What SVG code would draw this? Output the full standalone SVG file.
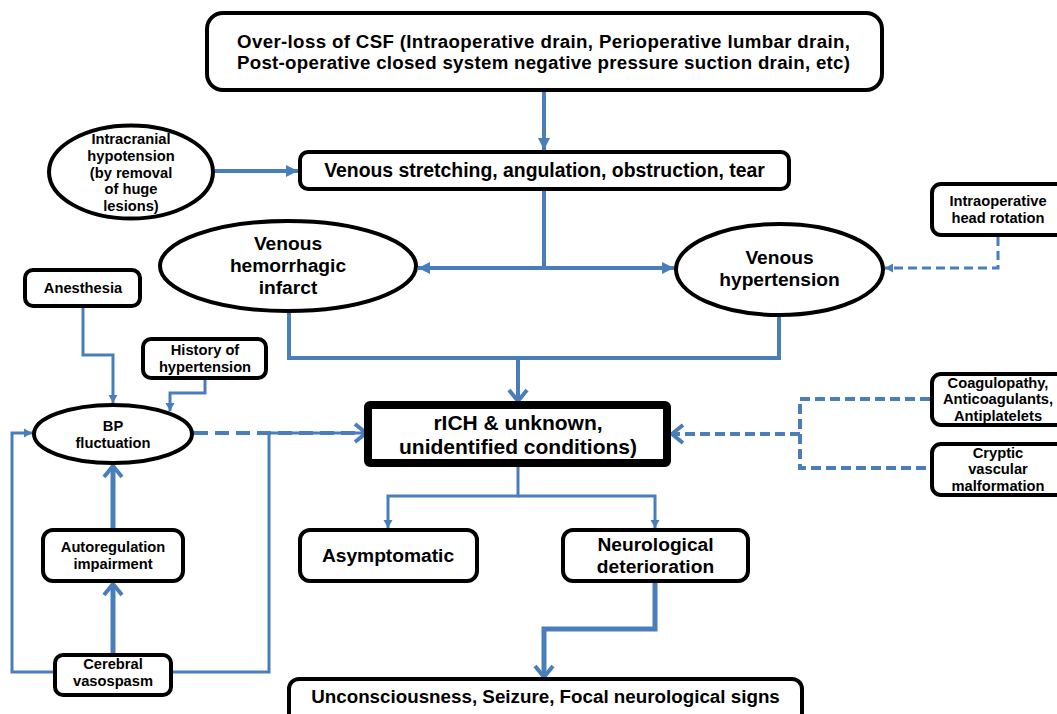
<svg xmlns="http://www.w3.org/2000/svg" width="1057" height="714" viewBox="0 0 1057 714">
<style>
.box{fill:#fff;stroke:#000;stroke-width:4}
.t{font-family:"Liberation Sans",Arial,sans-serif;font-weight:bold;fill:#000;text-anchor:middle}
.big{font-size:19.2px}
.sm{font-size:14.7px}
.c{fill:none;stroke:#4a7ebb;stroke-linejoin:miter}
.w4{stroke-width:4}
.w3{stroke-width:3}
.w5{stroke-width:5}
.d1{stroke-dasharray:14 7}
.d2{stroke-dasharray:10 5}
.d3{stroke-dasharray:9 5}
</style>
<defs>
<marker id="tri" markerUnits="userSpaceOnUse" markerWidth="14" markerHeight="14" refX="12" refY="6" orient="auto" overflow="visible"><path d="M0,0 L12,6 L0,12 z" fill="#4a7ebb"/></marker>
<marker id="triS" markerUnits="userSpaceOnUse" markerWidth="10" markerHeight="10" refX="8" refY="4.5" orient="auto" overflow="visible"><path d="M0,0 L8,4.5 L0,9 z" fill="#4a7ebb"/></marker>
<marker id="chev" markerUnits="userSpaceOnUse" markerWidth="20" markerHeight="20" refX="11" refY="9" orient="auto" overflow="visible"><path d="M0,0 L11,9 L0,18" fill="none" stroke="#4a7ebb" stroke-width="4" stroke-dasharray="none"/></marker>
</defs>
<rect width="1057" height="714" fill="#fff"/>
<g id="connectors">
<path class="c w4" d="M544,92 V150" marker-end="url(#tri)"/>
<path class="c w4" d="M215,171 H298" marker-end="url(#tri)"/>
<path class="c w4" d="M544,191 V268 H418" marker-end="url(#tri)"/>
<path class="c w4" d="M544,268 H674" marker-end="url(#tri)"/>
<path class="c w3 d3" d="M998,237 V268 H885" marker-end="url(#triS)"/>
<path class="c w4" d="M289,313 V358 H779 V317"/>
<path class="c w4" d="M518,358 V401" marker-end="url(#chev)"/>
<path class="c w3" d="M83,308 V355 H113 V403" marker-end="url(#triS)"/>
<path class="c w3" d="M205,380 V393 H170 V411" marker-end="url(#triS)"/>
<path class="c w5" d="M113,528 V466" marker-end="url(#chev)"/>
<path class="c w5" d="M113,653 V584" marker-end="url(#chev)"/>
<path class="c w3" d="M53,672 H12 V433 H32" marker-end="url(#triS)"/>
<path class="c w3" d="M173,672 H269 V433 H366"/>
<path class="c w4 d1" d="M194,433 H366" marker-end="url(#chev)"/>
<path class="c w4 d2" d="M930,399 H800 V468 H930"/>
<path class="c w4 d2" d="M800,434 H672" marker-end="url(#chev)"/>
<path class="c w3" d="M518,467 V496 H388 V528" marker-end="url(#triS)"/>
<path class="c w3" d="M518,496 H655 V528" marker-end="url(#triS)"/>
<path class="c w5" d="M655,583 V629 H544 V677" marker-end="url(#chev)"/>
</g>
<g id="overloss">
<rect class="box" x="207" y="13" width="675" height="77" rx="16"/>
<text class="t" font-size="18.7"><tspan x="543.5" y="48" textLength="613">Over-loss of CSF (Intraoperative drain, Perioperative lumbar drain,</tspan><tspan x="543.5" y="69" textLength="613">Post-operative closed system negative pressure suction drain, etc)</tspan></text>
</g>
<g id="stretching">
<rect class="box" x="300" y="152" width="489" height="37" rx="8"/>
<text class="t" font-size="19.4" x="544.5" y="177">Venous stretching, angulation, obstruction, tear</text>
</g>
<g id="intracranial">
<ellipse class="box" cx="131" cy="172" rx="82" ry="46.5"/>
<text class="t sm"><tspan x="131" y="144">Intracranial</tspan><tspan x="131" y="160.75">hypotension</tspan><tspan x="131" y="177.5">(by removal</tspan><tspan x="131" y="194.25">of huge</tspan><tspan x="131" y="211">lesions)</tspan></text>
</g>
<g id="infarct">
<ellipse class="box" cx="288" cy="266" rx="128" ry="45"/>
<text class="t big"><tspan x="288" y="250">Venous</tspan><tspan x="288" y="272">hemorrhagic</tspan><tspan x="288" y="294">infarct</tspan></text>
</g>
<g id="venoushtn">
<ellipse class="box" cx="779.5" cy="269.5" rx="103.5" ry="45.5"/>
<text class="t big"><tspan x="779.5" y="263.5">Venous</tspan><tspan x="779.5" y="285.5">hypertension</tspan></text>
</g>
<g id="headrotation">
<rect class="box" x="932" y="184" width="134" height="51" rx="9"/>
<text class="t sm"><tspan x="998" y="206">Intraoperative</tspan><tspan x="998" y="223">head rotation</tspan></text>
</g>
<g id="anesthesia">
<rect class="box" x="25" y="270" width="115" height="36" rx="8"/>
<text class="t sm" x="83" y="293">Anesthesia</text>
</g>
<g id="history">
<rect class="box" x="143" y="339" width="123" height="39" rx="8"/>
<text class="t sm"><tspan x="205" y="354.5">History of</tspan><tspan x="205" y="371.5">hypertension</tspan></text>
</g>
<g id="bp">
<ellipse class="box" cx="113" cy="434" rx="79" ry="29"/>
<text class="t sm"><tspan x="113" y="430.5">BP</tspan><tspan x="113" y="447.5">fluctuation</tspan></text>
</g>
<g id="autoregulation">
<rect class="box" x="43" y="530" width="140" height="51" rx="10"/>
<text class="t sm"><tspan x="113" y="551.5">Autoregulation</tspan><tspan x="113" y="568.5">impairment</tspan></text>
</g>
<g id="vasospasm">
<rect class="box" x="55" y="655" width="116" height="40" rx="8"/>
<text class="t sm"><tspan x="113" y="668.5">Cerebral</tspan><tspan x="113" y="685.5">vasospasm</tspan></text>
</g>
<g id="rich">
<rect x="368" y="405" width="299" height="58" rx="2" fill="#fff" stroke="#000" stroke-width="8"/>
<text class="t" font-size="21"><tspan x="518" y="429.5">rICH &amp; unknown,</tspan><tspan x="518" y="453.5">unidentified conditions)</tspan></text>
</g>
<g id="coagulopathy">
<rect class="box" x="932" y="374" width="134" height="51" rx="9"/>
<text class="t sm"><tspan x="998" y="387.5">Coagulopathy,</tspan><tspan x="998" y="404.2">Anticoagulants,</tspan><tspan x="998" y="420.9">Antiplatelets</tspan></text>
</g>
<g id="cryptic">
<rect class="box" x="932" y="444" width="134" height="51" rx="9"/>
<text class="t sm"><tspan x="998" y="457.5">Cryptic</tspan><tspan x="998" y="474.2">vascular</tspan><tspan x="998" y="490.9">malformation</tspan></text>
</g>
<g id="asymptomatic">
<rect class="box" x="300" y="530" width="177" height="51" rx="10"/>
<text class="t big" x="388" y="562">Asymptomatic</text>
</g>
<g id="neuro">
<rect class="box" x="563" y="530" width="185" height="51" rx="10"/>
<text class="t big"><tspan x="655.5" y="551">Neurological</tspan><tspan x="655.5" y="573">deterioration</tspan></text>
</g>
<g id="outcome">
<rect class="box" x="289" y="679" width="513" height="50" rx="10"/>
<text class="t" font-size="18.8" x="545.5" y="703">Unconsciousness, Seizure, Focal neurological signs</text>
</g>
</svg>
